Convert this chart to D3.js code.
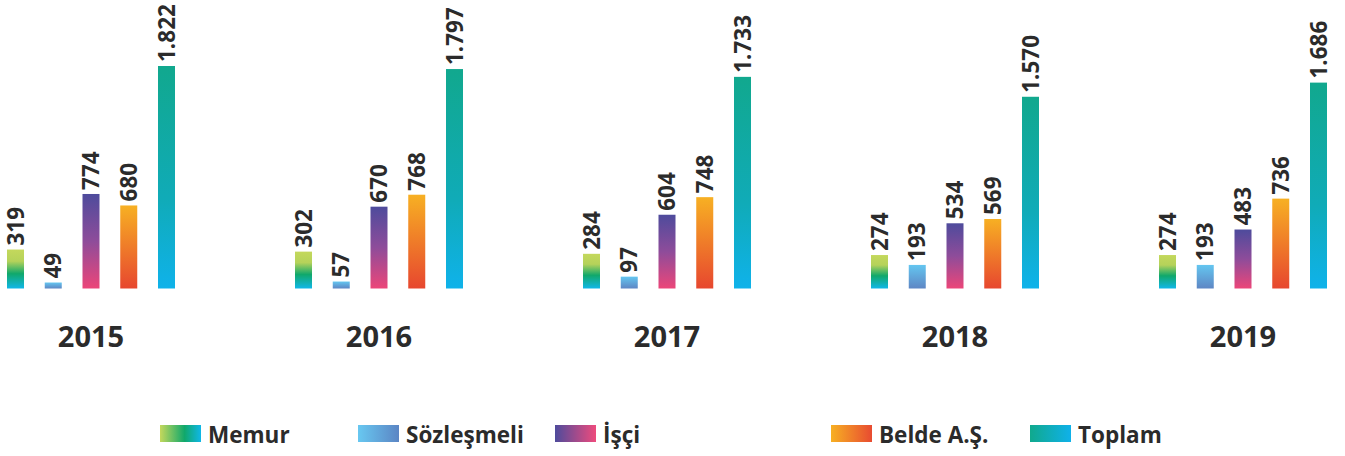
<!DOCTYPE html>
<html>
<head>
<meta charset="utf-8">
<script src="https://cdn.jsdelivr.net/npm/d3@7/dist/d3.min.js"></script>
<style>
  html, body { margin: 0; padding: 0; background: #ffffff; }
  svg { display: block; font-family: "Open Sans", "Noto Sans", sans-serif; }
</style>
</head>
<body>
<svg id="chart" width="1345" height="456"></svg>
<script>
// ---- data ----
const years = ["2015", "2016", "2017", "2018", "2019"];
const seriesNames = ["Memur", "Sözleşmeli", "İşçi", "Belde A.Ş.", "Toplam"];
const memur      = [319, 302, 284, 274, 274];
const sozlesmeli = [49, 57, 97, 193, 193];
const isci       = [774, 670, 604, 534, 483];
const belde      = [680, 768, 748, 569, 736];
const toplam     = [1822, 1797, 1733, 1570, 1686];
const valueLabels = [
  ["319", "49", "774", "680", "1.822"],
  ["302", "57", "670", "768", "1.797"],
  ["284", "97", "604", "748", "1.733"],
  ["274", "193", "534", "569", "1.570"],
  ["274", "193", "483", "736", "1.686"]
];

const seriesValues = [memur, sozlesmeli, isci, belde, toplam];
const gradStops = [
  [[0, "#c4d85c"], [0.3, "#b5d25a"], [0.62, "#10a86b"], [1, "#10b7e8"]],
  [[0, "#64c6f0"], [1, "#5e86c4"]],
  [[0, "#4e4b9c"], [0.5, "#8e4c9a"], [1, "#ec4679"]],
  [[0, "#f7b023"], [1, "#e7472f"]],
  [[0, "#11a88e"], [0.6, "#10abb8"], [1, "#0fb2ea"]]
];
const legendStops = [
  [[0, "#c4d85c"], [0.6, "#10a86b"], [1, "#10b7e8"]],
  [[0, "#68c8f1"], [1, "#5b85c4"]],
  [[0, "#4e4b9c"], [1, "#ee4b7d"]],
  [[0, "#f7b023"], [1, "#e84b31"]],
  [[0, "#10a98d"], [1, "#0fb1ea"]]
];

const svg = d3.select("#chart");
const defs = svg.append("defs");
seriesNames.forEach((s, i) => {
  const g = defs.append("linearGradient").attr("id", "gv" + i)
    .attr("x1", 0).attr("y1", 0).attr("x2", 0).attr("y2", 1);
  gradStops[i].forEach(st => g.append("stop").attr("offset", st[0]).attr("stop-color", st[1]));
  const h = defs.append("linearGradient").attr("id", "gh" + i)
    .attr("x1", 0).attr("y1", 0).attr("x2", 1).attr("y2", 0);
  legendStops[i].forEach(st => h.append("stop").attr("offset", st[0]).attr("stop-color", st[1]));
});

const baseY = 288.5;
const y = d3.scaleLinear().domain([0, 1822]).range([baseY, 66]);

const x0 = d3.scaleBand().domain(years).range([7, 7 + 288 * 5]).paddingInner(0).paddingOuter(0);
const x1 = d3.scaleBand().domain(seriesNames).range([0, 168])
  .paddingInner(1 - 17 / 37.75).paddingOuter(0).align(0);

const textColor = "#2b2b2b";

years.forEach((yr, gi) => {
  const g = svg.append("g").attr("transform", `translate(${x0(yr)},0)`);
  seriesNames.forEach((s, si) => {
    const v = seriesValues[si][gi];
    const bx = x1(s);
    const bw = x1.bandwidth();
    g.append("rect")
      .attr("x", bx).attr("width", bw)
      .attr("y", y(v)).attr("height", baseY - y(v))
      .attr("fill", `url(#gv${si})`);
    g.append("text")
      .attr("transform", `translate(${bx + bw / 2},${y(v) - 4}) rotate(-90)`)
      .attr("dy", "0.36em")
      .attr("text-anchor", "start")
      .attr("font-size", 22.5).attr("font-weight", 700)
      .attr("fill", textColor)
      .text(valueLabels[gi][si]);
  });
  const cx = x1("Memur") + (x1("Toplam") + x1.bandwidth() - x1("Memur")) / 2;
  g.append("text")
    .attr("x", cx).attr("y", 347)
    .attr("text-anchor", "middle")
    .attr("font-size", 29).attr("font-weight", 700)
    .attr("fill", textColor)
    .text(yr);
});

// legend
const legendX = [160, 358, 555, 831, 1030];
const lg = svg.append("g");
seriesNames.forEach((s, i) => {
  lg.append("rect").attr("x", legendX[i]).attr("y", 425).attr("width", 41).attr("height", 17)
    .attr("fill", `url(#gh${i})`);
  lg.append("text").attr("x", legendX[i] + 48).attr("y", 443)
    .attr("font-size", 22.5).attr("font-weight", 700).attr("fill", textColor)
    .text(s);
});
</script>
</body>
</html>
